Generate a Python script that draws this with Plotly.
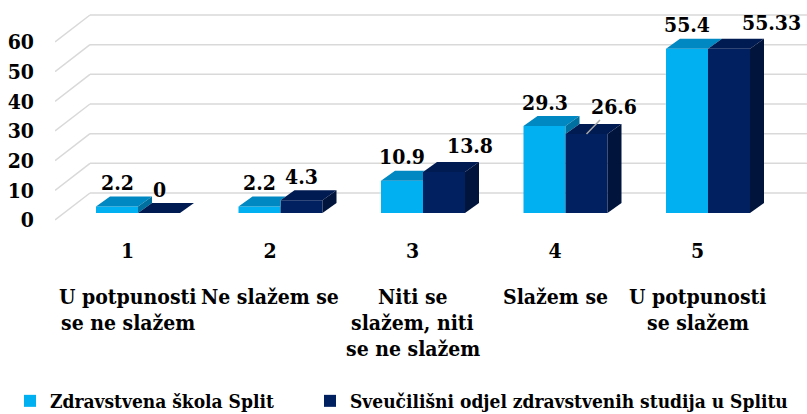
import plotly.graph_objects as go

# ---------------- data ----------------
categories = [1, 2, 3, 4, 5]
category_numbers = ["1", "2", "3", "4", "5"]
category_labels = [
    "U potpunosti<br>se ne slažem",
    "Ne slažem se",
    "Niti se<br>slažem, niti<br>se ne slažem",
    "Slažem se",
    "U potpunosti<br>se slažem",
]
series_names = ["Zdravstvena škola Split",
                "Sveučilišni odjel zdravstvenih studija u Splitu"]
zdravstvena = [2.2, 2.2, 10.9, 29.3, 55.4]
sveuciliste = [0, 4.3, 13.8, 26.6, 55.33]
y_ticks = [0, 10, 20, 30, 40, 50, 60]

# ---------------- style / geometry ----------------
W, H = 807, 414
FONT = "DejaVu Serif Condensed, DejaVu Serif, serif"
FS = 21
LEG_FS = 19
PLOT_L = 55
PX_PER_CAT = 142.5
C1_PX = 127.5
PX_PER_UNIT = 178 / 60.0
ZERO_PX = 220

front = ["#00B0F0", "#002060"]
top = ["#0088C2", "#001A52"]
side = ["#0070A0", "#00143C"]
GRID = "#D9D9D9"

x_range = [1 - (C1_PX - PLOT_L) / PX_PER_CAT, 1 + (W - C1_PX) / PX_PER_CAT]
y_range = [(ZERO_PX - H) / PX_PER_UNIT, ZERO_PX / PX_PER_UNIT]


def dxu(px):
    return px / PX_PER_CAT


def dyu(px):
    return px / PX_PER_UNIT


FD_X, FD_Y = dxu(35), dyu(27)      # floor / wall depth
BD_X, BD_Y = dxu(14), dyu(10)      # bar depth
BW = dxu(42)                        # bar width
PAIR_OFF = dxu(10.5)
BASE = dyu(7)

# label nudges (px): (dx, extra dy)
label_nudge = {(1, 2): (26, 3), (1, 4): (42, 2)}
arrow_label = {(1, 3): (27, -28)}

txt_font = dict(family=FONT, size=FS, color="black", weight="bold")
leg_font = dict(family=FONT, size=LEG_FS, color="black", weight="bold")

fig = go.Figure()

series = [zdravstvena, sveuciliste]
for s, vals in enumerate(series):
    fig.add_trace(go.Bar(
        x=categories, y=vals, base=[BASE] * len(vals),
        offset=PAIR_OFF - BW if s == 0 else PAIR_OFF, width=BW,
        marker=dict(color=front[s], line=dict(width=0)),
        name=series_names[s], legend="legend" if s == 0 else "legend2",
        hoverinfo="skip",
    ))

shapes = []
# gridlines: left wall diagonals and back wall horizontals
x0w = x_range[0]
for v in y_ticks:
    shapes.append(dict(type="line", xref="x", yref="y", layer="below",
                       x0=x0w, y0=v, x1=x0w + FD_X, y1=v + FD_Y,
                       line=dict(color=GRID, width=1.5)))
    shapes.append(dict(type="line", xref="x", yref="y", layer="below",
                       x0=x0w + FD_X, y0=v + FD_Y, x1=x_range[1] + 0.2, y1=v + FD_Y,
                       line=dict(color=GRID, width=1.5)))


def poly(pts, color):
    p = "M " + " L ".join(f"{x},{y}" for x, y in pts) + " Z"
    return dict(type="path", xref="x", yref="y", layer="above", path=p,
                fillcolor=color, line=dict(width=0))


k = BD_Y / BD_X
for i, c in enumerate(categories):
    Lt = BASE + zdravstvena[i]
    Dt = BASE + sveuciliste[i]
    xl0 = c + PAIR_OFF - BW
    x1 = c + PAIR_OFF
    xd1 = x1 + BW
    # light bar faces
    if Dt <= Lt:
        shapes.append(poly([(xl0, Lt), (x1, Lt), (x1 + BD_X, Lt + BD_Y), (xl0 + BD_X, Lt + BD_Y)], top[0]))
        if Dt < Lt:
            shapes.append(poly([(x1, Dt), (x1, Lt), (x1 + BD_X, Lt + BD_Y), (x1 + BD_X, Dt + BD_Y)], side[0]))
    else:
        Dc = min(Dt, Lt + BD_Y)
        shapes.append(poly([(xl0, Lt), (x1, Lt), (x1, Dc),
                            (x1 + (Lt + BD_Y - Dc) / k, Lt + BD_Y), (xl0 + BD_X, Lt + BD_Y)], top[0]))
    # dark bar faces
    shapes.append(poly([(x1, Dt), (xd1, Dt), (xd1 + BD_X, Dt + BD_Y), (x1 + BD_X, Dt + BD_Y)], top[1]))
    shapes.append(poly([(xd1, BASE), (xd1, Dt), (xd1 + BD_X, Dt + BD_Y), (xd1 + BD_X, BASE + BD_Y)], side[1]))

annotations = []
for s, vals in enumerate(series):
    for i, c in enumerate(categories):
        xc = c + PAIR_OFF - BW + BW / 2 if s == 0 else c + PAIR_OFF + BW / 2
        v = vals[i]
        txt = f"{v:g}"
        if (s, i) in arrow_label:
            ax, ay = arrow_label[(s, i)]
            annotations.append(dict(x=xc, y=BASE + v, xref="x", yref="y", text=txt,
                                    showarrow=True, arrowhead=0, arrowwidth=1.5,
                                    arrowcolor="#A6A6A6", ax=ax, ay=ay, font=txt_font))
            continue
        dx, dy = label_nudge.get((s, i), (0, 0))
        annotations.append(dict(x=xc, y=BASE + v + BD_Y, xref="x", yref="y", text=txt,
                                showarrow=False, xshift=dx, yshift=14 + dy, yanchor="middle",
                                font=txt_font))

# category descriptive labels, line by line
LINE0_PX, LINE_GAP = 296, 26
for i, c in enumerate(categories):
    for j, line in enumerate(category_labels[i].split("<br>")):
        annotations.append(dict(x=c, xref="x", yref="paper",
                                y=1 - (LINE0_PX + j * LINE_GAP) / H, yanchor="middle",
                                text=line, showarrow=False, font=txt_font))

fig.update_layout(
    width=W, height=H,
    margin=dict(l=PLOT_L, r=0, t=0, b=0, autoexpand=False),
    paper_bgcolor="white", plot_bgcolor="white",
    barmode="overlay", shapes=shapes, annotations=annotations,
    xaxis=dict(range=x_range, showgrid=False, zeroline=False, showline=False,
               tickvals=categories, ticktext=category_numbers, ticks="",
               anchor="free", position=1 - 236 / H, fixedrange=True,
               tickfont=txt_font),
    yaxis=dict(range=y_range, showgrid=False, zeroline=False, showline=False,
               tickvals=y_ticks, ticks="", ticklabelstandoff=20, fixedrange=True,
               tickfont=txt_font),
    legend=dict(orientation="h", xref="container", yref="container",
                x=10 / W, y=(H - 401) / H, xanchor="left", yanchor="middle",
                font=leg_font, bgcolor="rgba(0,0,0,0)"),
    legend2=dict(orientation="h", xref="container", yref="container",
                 x=310 / W, y=(H - 401) / H, xanchor="left", yanchor="middle",
                 font=leg_font, bgcolor="rgba(0,0,0,0)"),
    showlegend=True,
)

fig.write_html("out.html", config={"displayModeBar": False},
               post_script="document.body.style.margin='0px';")
